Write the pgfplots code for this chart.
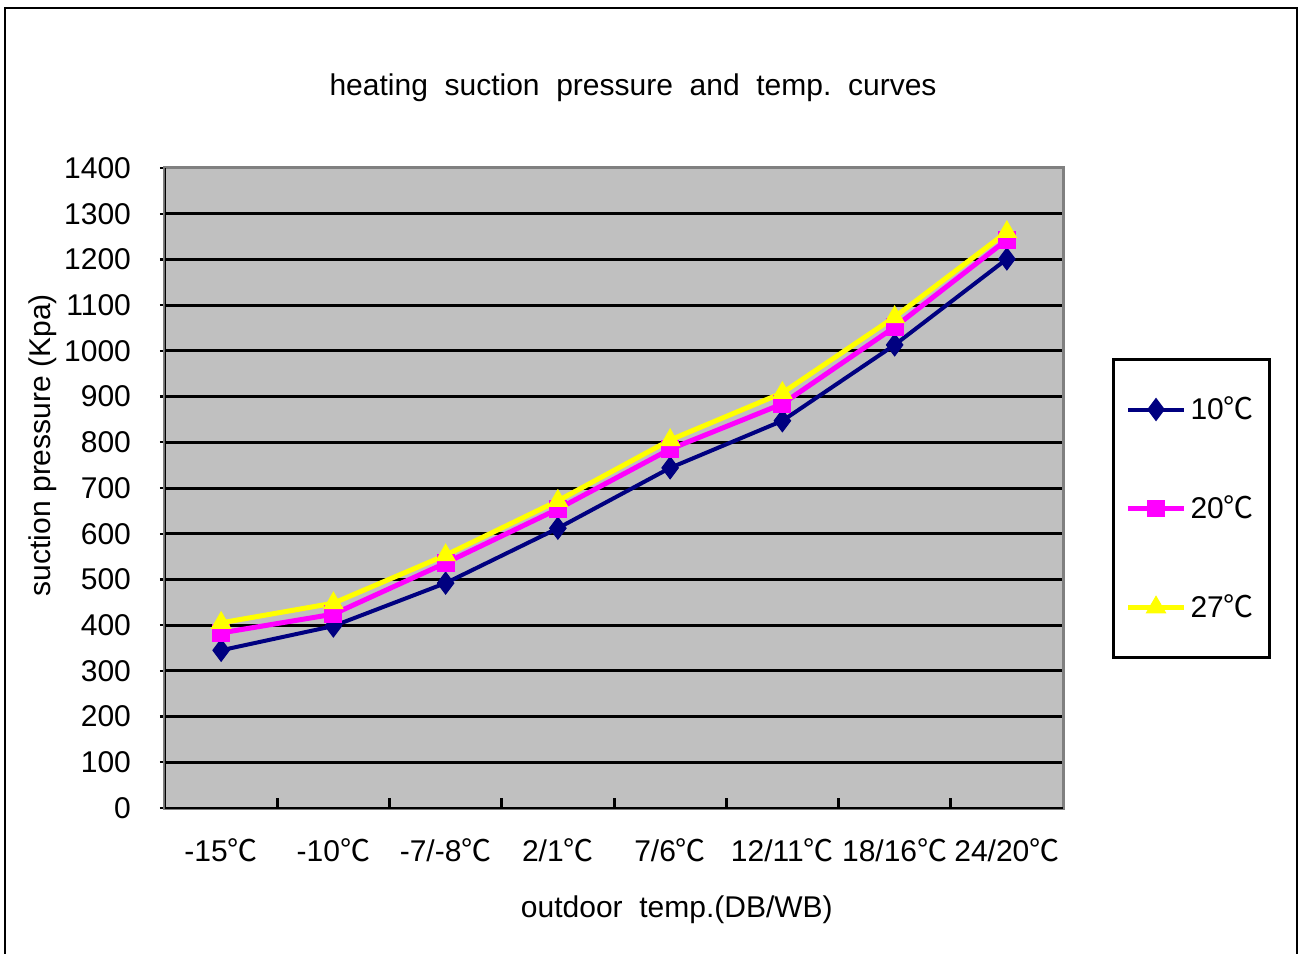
\documentclass[border=0pt]{standalone}
\usepackage{pgfplots}
\pgfplotsset{compat=1.18}
\usepackage{fontspec}
\setmainfont{Liberation Sans}
\newfontfamily\cjk{Noto Sans CJK SC}
\newcommand{\degC}{{\cjk ℃}}
\definecolor{navyc}{RGB}{0,0,128}
\definecolor{magc}{RGB}{255,0,255}
\definecolor{yelc}{RGB}{255,255,0}
\definecolor{bggrey}{RGB}{192,192,192}
\definecolor{framegrey}{RGB}{128,128,128}
\begin{document}
\begin{tikzpicture}
\useasboundingbox (-82.5pt,-72.5pt) rectangle (567pt,404pt);
\draw[black, line width=1pt] (-80pt,-90pt) -- (-80pt,400pt) -- (566pt,400pt) -- (566pt,-90pt);
\begin{axis}[
  at={(0,0)}, anchor=south west,
  scale only axis, width=449pt, height=320pt,
  xmin=-0.5, xmax=7.5, ymin=0, ymax=1400,
  font=\fontsize{15pt}{17pt}\selectfont,
  /pgf/number format/assume math mode=true,
  /pgf/number format/1000 sep={},
  axis background/.style={fill=bggrey},
  axis line style={draw=framegrey, line width=1.5pt},
  ytick={0,100,...,1400},
  xtick={0,...,7},
  tick pos=left,
  xticklabels={-15\degC,-10\degC,-7/-8\degC,2/1\degC,7/6\degC,12/11\degC,18/16\degC,24/20\degC},
  x tick style={draw=none},
  extra x ticks={0.5,1.5,2.5,3.5,4.5,5.5,6.5},
  extra x tick labels={},
  extra x tick style={x tick style={draw=black, line width=1.5pt}, major tick length=5pt, tick pos=left},
  tick align=inside,
  y tick style={draw=black, line width=1.2pt, xshift=-2.5pt},
  major tick length=5pt,
  ymajorgrids,
  y grid style={black, line width=1.5pt},
  yticklabel style={anchor=east, xshift=-13.5pt},
  xticklabel style={anchor=north, yshift=-12pt},
  title={heating\ \ suction\ \ pressure\ \ and\ \ temp.\ \ curves},
  title style={at={(axis description cs:0.5212,1.1063)}, anchor=center, yshift=0pt},
  xlabel={outdoor\ \ temp.(DB/WB)},
  xlabel style={at={(axis description cs:0.570,-0.159)}, anchor=center},
  ylabel={suction pressure (Kpa)},
  ylabel style={at={(axis description cs:-0.1359,0.567)}, anchor=center, rotate=0},
  legend style={at={(axis description cs:1.0546,0.703)}, anchor=north west,
    draw=black, line width=1.5pt, inner xsep=6pt, inner ysep=16.5pt, row sep=32.5pt,
    font=\fontsize{15pt}{17pt}\selectfont, cells={anchor=west}},
  legend image code/.code={\draw[mark repeat=2,mark phase=2,#1] plot coordinates {(0pt,0pt)(14pt,0pt)(28pt,0pt)};},
]
\addplot[navyc, line width=2pt, mark=diamond*, mark size=5.5pt, mark options={solid, fill=navyc, line width=0.5pt}]
  coordinates {(0,345) (1,398) (2,492) (3,612) (4,744) (5,847) (6,1013) (7,1201)};
\addlegendentry{10\degC}
\addplot[magc, line width=2.5pt, mark=square*, mark size=4.2pt, mark options={solid, fill=magc, line width=0.5pt}]
  coordinates {(0,383) (1,424) (2,536) (3,654) (4,785) (5,884) (6,1052) (7,1243)};
\addlegendentry{20\degC}
\addplot[yelc, line width=2.5pt, mark=triangle*, mark size=5.5pt, mark options={solid, fill=yelc, line width=0.5pt}]
  coordinates {(0,405) (1,448) (2,553) (3,672) (4,805) (5,908) (6,1074) (7,1260)};
\addlegendentry{27\degC}
\draw[black, line width=1.5pt] (rel axis cs:0,1) -- (rel axis cs:0,0) -- (rel axis cs:1,0);
\end{axis}
\end{tikzpicture}
\end{document}
